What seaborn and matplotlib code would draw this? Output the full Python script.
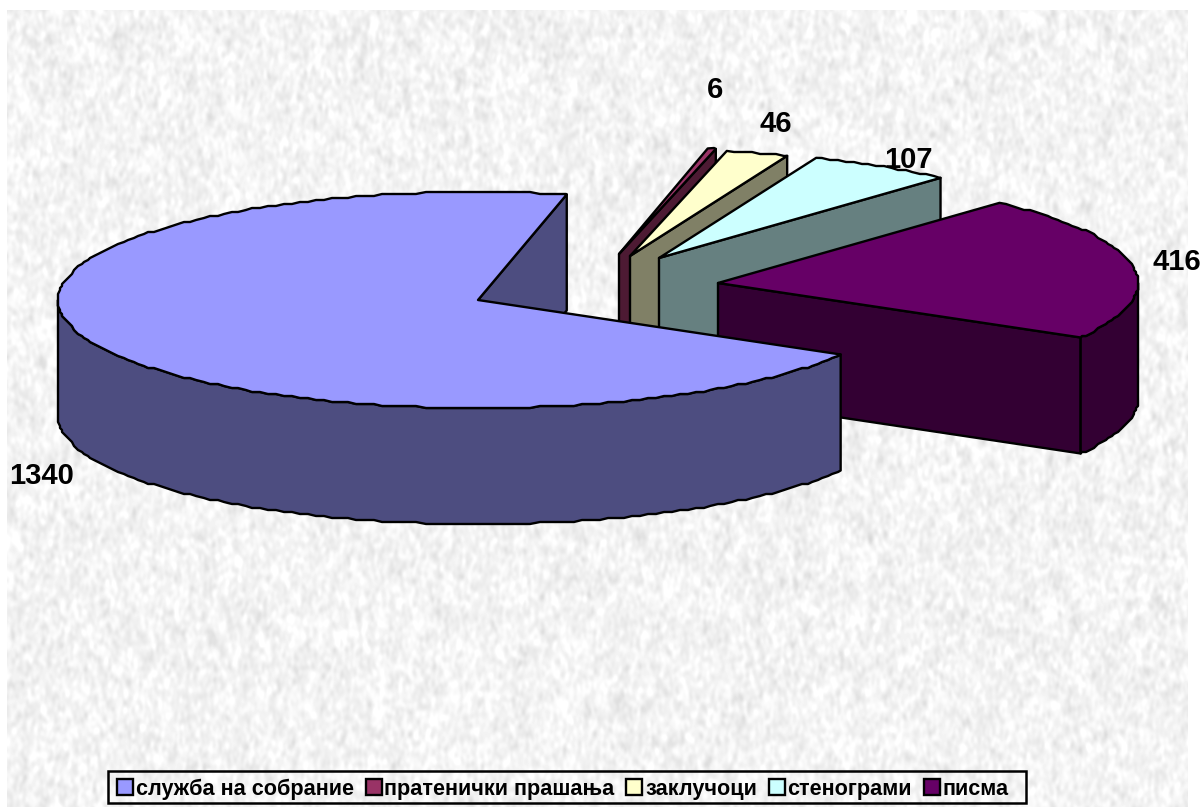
import numpy as np
import matplotlib
matplotlib.use("Agg")
import matplotlib.pyplot as plt
from matplotlib.patches import Patch, Polygon, Rectangle
import seaborn as sns

categories = ["служба на собрание", "пратенички прашања", "заклучоци", "стенограми", "писма"]
values = [1340, 6, 46, 107, 416]
colors = ["#9999FF", "#993366", "#FFFFCC", "#CCFFFF", "#660066"]

# layout (pixels)
W, H = 1203, 807
RX, RY, DEPTH = 420, 108, 116
START = 77.8                      # degrees; the largest slice closes here, others run clockwise
apex = {0: (478, 300), 1: (619, 254), 2: (630, 256), 3: (659, 258), 4: (718, 283)}
label_xy = {0: (42, 476), 1: (715, 90), 2: (776, 124), 3: (908, 160), 4: (1177, 262)}

sns.set_theme(style="white")
plt.rcParams["font.family"] = ["Liberation Sans", "DejaVu Sans"]
plt.rcParams["text.color"] = "black"
palette = sns.color_palette(colors)

fig = plt.figure(figsize=(W / 100, H / 100), dpi=100, facecolor="white")
ax = fig.add_axes([0, 0, 1, 1])

# paper texture backdrop
rng = np.random.default_rng(7)
bx0, bx1, by0, by1 = 7, 1188, 10, 807
h, w = by1 - by0, bx1 - bx0
fy = np.fft.fftfreq(h)[:, None]
fx = np.fft.fftfreq(w)[None, :]
def blur(sx, sy):
    n = rng.normal(size=(h, w))
    out = np.fft.ifft2(np.fft.fft2(n) * np.exp(-2 * np.pi**2 * ((fx * sx) ** 2 + (fy * sy) ** 2))).real
    return out / out.std()
tex = 0.85 * blur(1.6, 2.6) + 0.35 * blur(4, 6)
bg = np.clip(0.955 + 0.026 * tex, 0.80, 1.0)
ax.imshow(bg, cmap="gray", vmin=0, vmax=1, extent=(bx0, bx1, by1, by0),
          aspect="auto", zorder=0, interpolation="bilinear")
ax.set_xlim(0, W)
ax.set_ylim(H, 0)
ax.axis("off")

total = sum(values)
sweeps = [v / total * 360 for v in values]

ranges = {0: (START, START + sweeps[0])}
cur = START
for i in range(1, len(values)):
    ranges[i] = (cur - sweeps[i], cur)
    cur -= sweeps[i]

def pt(c, deg):
    t = np.radians(deg)
    return np.c_[c[0] + RX * np.cos(t), c[1] - RY * np.sin(t)]

def arc(c, a, b):
    # same angular grid for every arc so top and rim outlines coincide
    grid = np.arange(np.ceil(a / 1.2) * 1.2, b, 1.2)
    deg = np.r_[a, grid, b]
    xy = pt(c, deg)
    out = np.round(xy / 2.0) * 2.0      # the slightly stepped rim of the original rendering
    out[0], out[-1] = xy[0], xy[-1]
    return out

def shade(col):
    return tuple(x * 0.5 for x in col)

LW = 1.7
def poly(xy, fc, z):
    ax.add_patch(Polygon(xy, closed=True, facecolor=fc, edgecolor="black", lw=LW,
                         joinstyle="round", zorder=z))

def draw_slice(i, z):
    c = np.array(apex[i], float)
    lo, hi = ranges[i]
    dark = shade(palette[i])
    down = np.array([0, DEPTH])
    e = pt(c, lo)[0]
    poly(np.array([c, e, e + down, c + down]), dark, z)
    rim = None
    if i == 0:
        rim = arc(c, 180, hi)
    elif lo < 0:
        rim = arc(c, lo, 0)
    if rim is not None:
        poly(np.vstack([rim, (rim + down)[::-1]]), dark, z)
    poly(np.vstack([[c], arc(c, lo, hi)]), palette[i], z + 0.5)

for z, i in enumerate([1, 2, 3, 4, 0], start=2):
    draw_slice(i, z)

for i, v in enumerate(values):
    ax.text(*label_xy[i], str(v), ha="center", va="center", fontsize=21,
            fontweight="bold", color="black", zorder=10)

ax.add_patch(Rectangle((108, 771), 918, 32, facecolor="none", edgecolor="black", lw=1.8, zorder=11))
handles = [Patch(facecolor=palette[i], edgecolor="black", lw=LW, label=categories[i])
           for i in range(len(values))]
leg = ax.legend(handles=handles, ncol=5, loc="center left",
                bbox_to_anchor=(117 / W, 1 - 789 / H), bbox_transform=fig.transFigure,
                frameon=False, labelcolor="black",
                prop={"weight": "bold", "size": 15.6}, handlelength=0.74, handleheight=0.74,
                handletextpad=0.12, columnspacing=0.55, borderpad=0, borderaxespad=0)
leg.set_zorder(12)

fig.savefig("out.png", dpi=100)
